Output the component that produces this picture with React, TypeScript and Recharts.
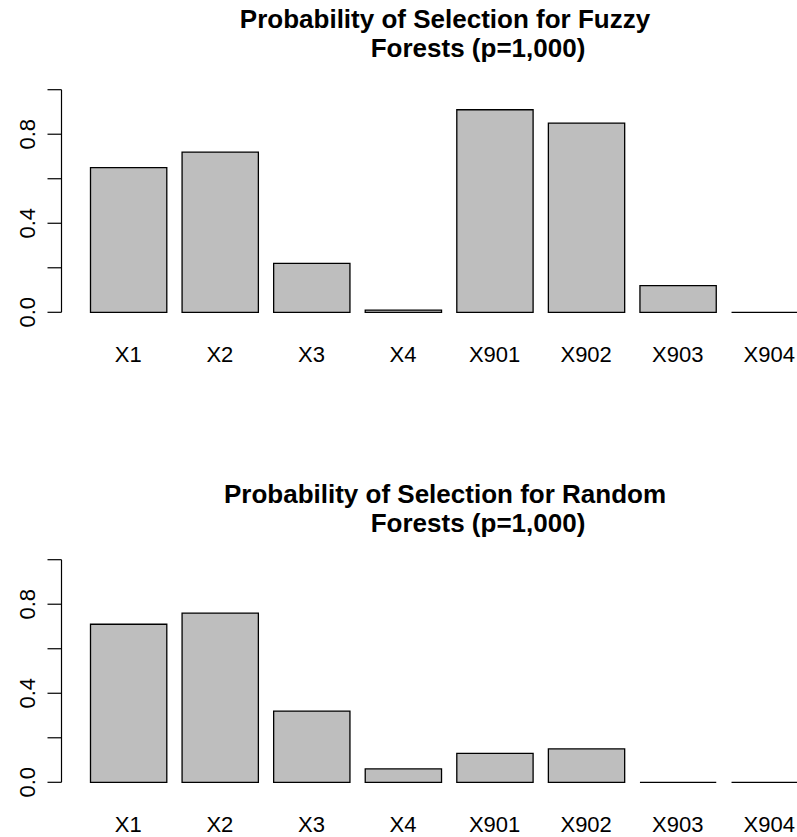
import { BarChart, Bar, XAxis, YAxis } from 'recharts';

// values
const categories = ['X1', 'X2', 'X3', 'X4', 'X901', 'X902', 'X903', 'X904'];
const fuzzyValues = [0.65, 0.72, 0.22, 0.01, 0.91, 0.85, 0.12, 0];
const randomValues = [0.71, 0.76, 0.32, 0.06, 0.13, 0.15, 0, 0];
const yTicks = [0, 0.2, 0.4, 0.6, 0.8, 1.0];
const yLabelled = [0, 0.4, 0.8];

const fuzzyTitle = ['Probability of Selection for Fuzzy', 'Forests (p=1,000)'];
const randomTitle = ['Probability of Selection for Random', 'Forests (p=1,000)'];

const FONT = '"Liberation Sans", Arial, Helvetica, sans-serif';

const toRows = (vals: number[]) => categories.map((name, i) => ({ name, value: vals[i] }));

// R-style bar: zero-height bars still get drawn as a line
const BarShape = (props: any) => {
  const { x, y, width, height } = props;
  const h = height || 0;
  return (
    <path
      d={`M${x},${y} L${x + width},${y} L${x + width},${y + h} L${x},${y + h} Z`}
      fill="#bebebe"
      stroke="#000"
      strokeWidth={1.3}
    />
  );
};

const XTick = (props: any) => {
  const { x, y, payload } = props;
  return (
    <text x={x} y={y + 49.7} textAnchor="middle" fontFamily={FONT} fontSize={22} fill="#000">
      {payload.value}
    </text>
  );
};

const YTick = (props: any) => {
  const { x, y, payload } = props;
  if (!yLabelled.some((v) => Math.abs(v - payload.value) < 1e-6)) return null;
  const bx = x - 12.8;
  return (
    <text
      x={bx}
      y={y}
      transform={`rotate(-90 ${bx} ${y})`}
      textAnchor="middle"
      fontFamily={FONT}
      fontSize={22}
      fill="#000"
    >
      {payload.value.toFixed(1)}
    </text>
  );
};

type PanelProps = { top: number; values: number[]; title: string[]; titleY: number[] };

const Panel = ({ top, values, title, titleY }: PanelProps) => (
  <div style={{ position: 'absolute', left: 0, top, width: 840, height: 418 }}>
    <BarChart
      width={840}
      height={418}
      data={toRows(values)}
      margin={{ top: 89.7, right: 3.9, bottom: 45.7, left: 0 }}
      barSize={76.3}
    >
      <XAxis
        dataKey="name"
        axisLine={false}
        tickLine={false}
        tickSize={0}
        tickMargin={0}
        interval={0}
        height={60}
        padding={{ left: 21, right: 21 }}
        tick={<XTick />}
      />
      <YAxis
        type="number"
        domain={[0, 1]}
        ticks={yTicks}
        width={61.5}
        tickSize={14}
        tickMargin={0}
        axisLine={{ stroke: '#000', strokeWidth: 1.2 }}
        tickLine={{ stroke: '#000', strokeWidth: 1.2 }}
        tick={<YTick />}
      />
      <Bar dataKey="value" shape={<BarShape />} isAnimationActive={false} />
    </BarChart>
    <svg width={840} height={418} style={{ position: 'absolute', left: 0, top: 0, pointerEvents: 'none' }}>
      <text x={445} y={titleY[0]} textAnchor="middle" fontFamily={FONT} fontSize={26} fontWeight="bold" fill="#000">
        {title[0]}
      </text>
      <text x={478} y={titleY[1]} textAnchor="middle" fontFamily={FONT} fontSize={26} fontWeight="bold" fill="#000">
        {title[1]}
      </text>
    </svg>
  </div>
);

export default function App() {
  return (
    <div
      style={{
        position: 'fixed',
        left: 0,
        top: 0,
        width: 797,
        height: 837,
        overflow: 'hidden',
        background: '#fff',
      }}
    >
      <Panel top={0} values={fuzzyValues} title={fuzzyTitle} titleY={[28.4, 57.4]} />
      <Panel top={470.4} values={randomValues} title={randomTitle} titleY={[32.9, 61.9]} />
    </div>
  );
}
